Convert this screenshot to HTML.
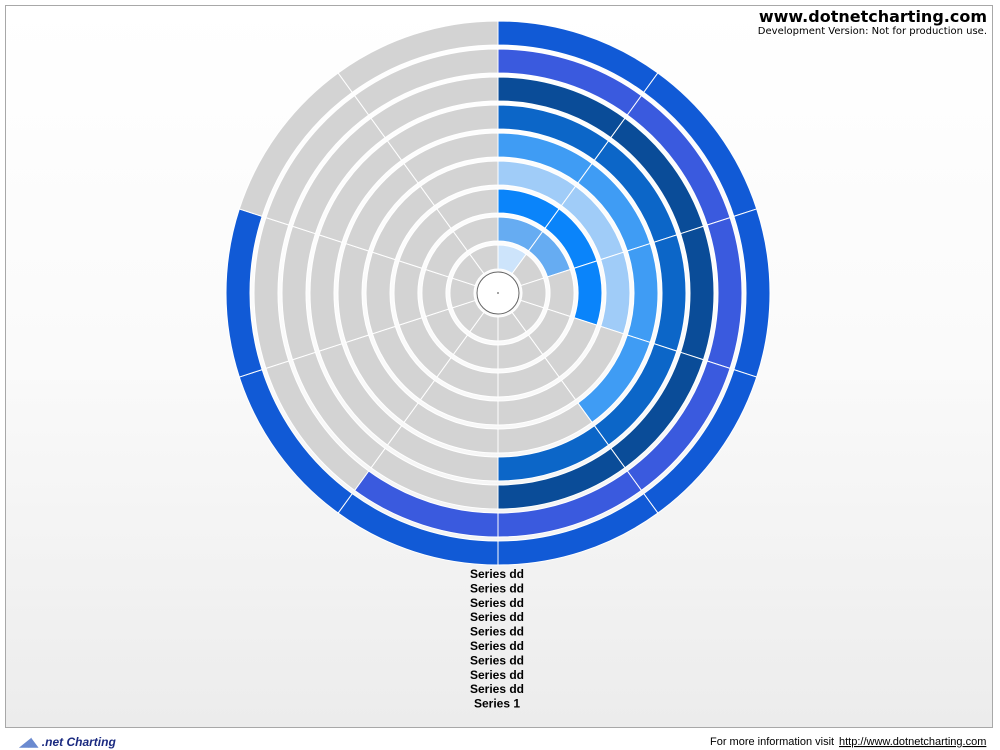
<!DOCTYPE html>
<html><head><meta charset="utf-8"><style>
body{margin:0;width:1000px;height:750px;background:#fff;font-family:"Liberation Sans",Verdana,sans-serif;position:relative;overflow:hidden}
</style></head><body>
<svg width="1000" height="750" style="position:absolute;left:0;top:0">
<defs><linearGradient id="bg" x1="0" y1="0" x2="0" y2="1"><stop offset="0" stop-color="#ffffff"/><stop offset="0.5" stop-color="#fafafa"/><stop offset="1" stop-color="#ececec"/></linearGradient></defs>
<rect x="5.5" y="5.5" width="987" height="722" fill="url(#bg)" stroke="#a8a8a8"/>
<g id="rings"></g>
<circle cx="498" cy="293" r="21" fill="#fff" stroke="#666" stroke-width="1"/>
<circle cx="498" cy="293" r="1" fill="#888"/>
<text x="987" y="22" text-anchor="end" font-size="16" font-weight="bold" fill="#000" font-family="DejaVu Sans, sans-serif">www.dotnetcharting.com</text>
<text x="987" y="34" text-anchor="end" font-size="10" fill="#000" font-family="DejaVu Sans, sans-serif">Development Version: Not for production use.</text>
<g id="legend"></g>
<text x="20" y="746" font-size="12" font-style="italic" font-weight="bold" fill="#1a2a80"><tspan fill="#6a8ad0">◢◣ </tspan>.net Charting</text>
<text x="710" y="745" font-size="11" fill="#000">For more information visit</text>
<text x="839" y="745" font-size="11" fill="#000" text-decoration="underline">http://www.dotnetcharting.com</text>
</svg>
<script>
const ringNames=["r1","r2","r3","r4","r5","r6","r7","r8","r9"];
const ringValues=[1,2,3,3,4,5,5,6,8];
const ringColors=["#cde4fb","#66acf2","#0a84fa","#a0ccf8","#3f9cf4","#0c66c8","#0a4c98","#3a5ade","#115ad6"];
const legendLabels=["Series dd","Series dd","Series dd","Series dd","Series dd","Series dd","Series dd","Series dd","Series dd","Series 1"];
const segments=10, cx=498, cy=293, r0=22, rw=28;
const NS="http://www.w3.org/2000/svg";
const g=document.getElementById('rings');
function pt(r,a){const t=a*Math.PI/180;return [cx+r*Math.sin(t),cy-r*Math.cos(t)];}
function arc(ri,ro,a0,a1){const p1=pt(ro,a0),p2=pt(ro,a1),p3=pt(ri,a1),p4=pt(ri,a0);const l=(a1-a0)>180?1:0;
return `M${p1} A${ro},${ro} 0 ${l} 1 ${p2} L${p3} A${ri},${ri} 0 ${l} 0 ${p4}Z`;}
ringValues.forEach((v,i)=>{
  const ri=r0+i*rw+2, ro=r0+(i+1)*rw-2;
  for(let s=0;s<segments;s++){
    const p=document.createElementNS(NS,'path');
    p.setAttribute('d',arc(ri,ro,s*36,(s+1)*36));
    p.setAttribute('fill',s<v?ringColors[i]:'#d3d3d3');
    p.setAttribute('stroke','#fff');p.setAttribute('stroke-width','1');
    
    
    g.appendChild(p);
  }
});
const lg=document.getElementById('legend');
legendLabels.forEach((t,i)=>{
  const e=document.createElementNS(NS,'text');
  e.setAttribute('x',497);e.setAttribute('y',578+i*14.4);
  e.setAttribute('text-anchor','middle');e.setAttribute('font-size','12');e.setAttribute('font-weight','bold');
  e.textContent=t;
  
  
  lg.appendChild(e);
});
</script>
</body></html>
